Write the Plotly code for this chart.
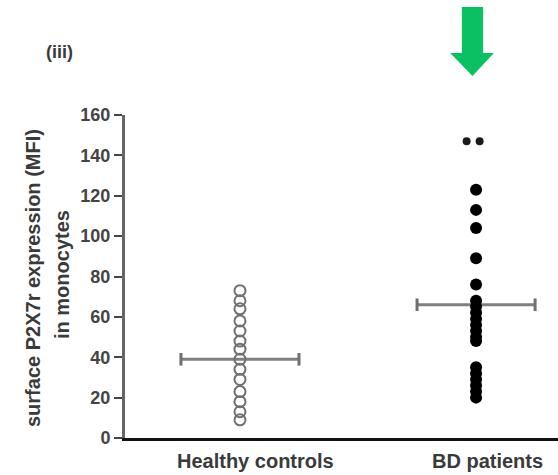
import plotly.graph_objects as go

# Group labels and positions on the x axis
groups = ["Healthy controls", "BD patients"]
group_x = [1, 2]

# Surface P2X7r expression (MFI) in monocytes, per subject
healthy = [73, 68, 64, 58, 53, 48, 44, 39, 34, 29, 23, 18, 13, 9]
bd_main = [123, 113, 104, 89, 76, 68, 65, 62, 59, 56, 53, 50, 48, 35, 32, 29, 26, 23, 20]
bd_top = [147, 147]
bd_top_offset = [-0.04, 0.015]

# Group means drawn as horizontal bars
means = [39, 66]
bar_half = 0.25

y_ticks = [0, 20, 40, 60, 80, 100, 120, 140, 160]

fig = go.Figure()

# Mean bars with end caps
for gx, m in zip(group_x, means):
    fig.add_trace(go.Scatter(
        x=[gx - bar_half, gx + bar_half], y=[m, m], mode="lines+markers",
        line=dict(color="#808080", width=3),
        marker=dict(symbol="line-ns", size=9, line=dict(color="#707070", width=3)),
        hoverinfo="skip", showlegend=False,
    ))

fig.add_trace(go.Scatter(
    x=[group_x[0]] * len(healthy), y=healthy, mode="markers",
    marker=dict(symbol="circle-open", size=11, color="#707070", line=dict(width=2)),
    showlegend=False,
))
fig.add_trace(go.Scatter(
    x=[group_x[1]] * len(bd_main), y=bd_main, mode="markers",
    marker=dict(symbol="circle", size=12, color="#000000"),
    showlegend=False,
))
fig.add_trace(go.Scatter(
    x=[group_x[1] + o for o in bd_top_offset], y=bd_top, mode="markers",
    marker=dict(symbol="circle", size=8, color="#1a1a1a"),
    showlegend=False,
))

label_font = dict(family="Liberation Sans, Arial", size=20, color="#3a3a3a")


def px_x(p):
    return (p - 125) / 433


def px_y(p):
    return (438 - p) / 323


def note(text, x, y, size, angle=0):
    return dict(text=f"<b>{text}</b>", xref="paper", yref="paper",
                x=px_x(x), y=px_y(y), xanchor="center", yanchor="middle",
                textangle=angle, showarrow=False,
                font=dict(family="Liberation Sans, Arial", size=size, color="#3a3a3a"))


x0 = 0.513
x1 = 2.347
fig.update_layout(
    width=558, height=475,
    margin=dict(l=125, r=0, t=115, b=37),
    paper_bgcolor="white", plot_bgcolor="white",
    font=dict(family="Liberation Sans, Arial", color="#333333"),
    xaxis=dict(
        range=[x0, x1], tickvals=group_x, ticktext=["", ""],
        showline=True, linecolor="#111111", linewidth=3,
        ticks="", showgrid=False, zeroline=False,
    ),
    yaxis=dict(
        range=[0, 160], tickvals=y_ticks,
        ticktext=[f"<b>{v}</b>" for v in y_ticks],
        showline=True, linecolor="#666666", linewidth=3,
        ticks="outside", ticklen=8, tickwidth=2, tickcolor="#444444",
        showgrid=False, zeroline=False,
        tickfont=dict(size=18, color="#444444"),
    ),
    annotations=[
        note("surface P2X7r expression (MFI)", 33, 278, 20, -90),
        note("in monocytes", 62, 275, 20, -90),
        note("(iii)", 59, 52, 18),
        note(groups[0], 255, 461, 20),
        note(groups[1], 487, 461, 20),
    ],
    shapes=[
        # green arrow pointing at the patient group
        dict(type="path", xref="paper", yref="paper",
             path="M 0.778 1.334 L 0.827 1.334 L 0.827 1.192 L 0.852 1.192 "
                  "L 0.8025 1.121 L 0.751 1.192 L 0.778 1.192 Z",
             fillcolor="#0BBF63", line=dict(width=0)),
    ],
)

fig.write_html("out.html")
